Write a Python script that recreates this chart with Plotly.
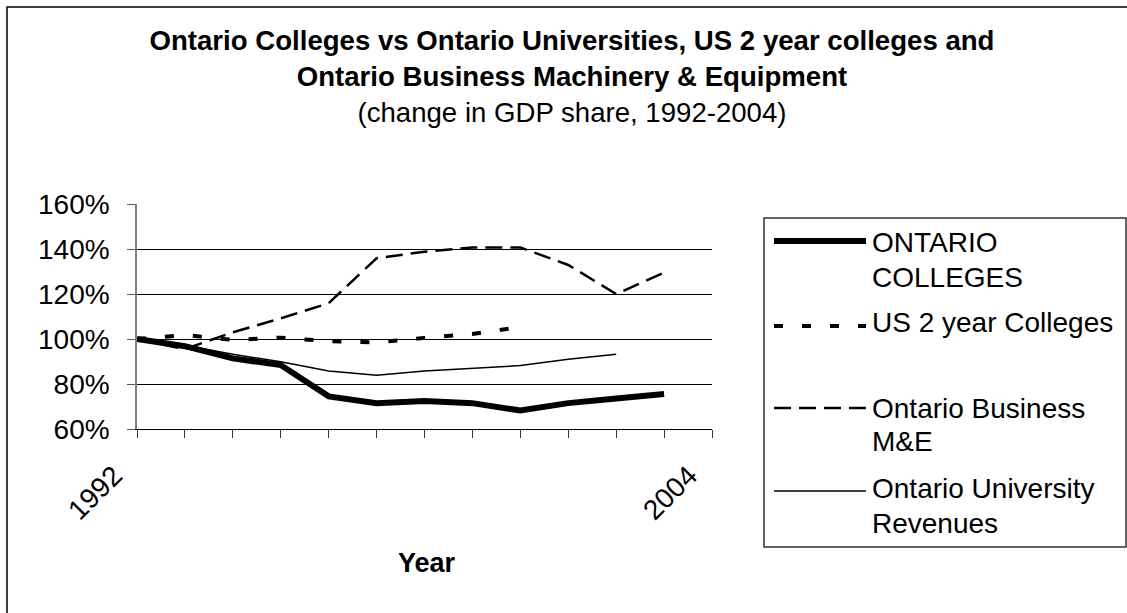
import plotly.graph_objects as go

# ---------------- data ----------------
years = list(range(1992, 2005))
tick_labels = ["1992"] + [""] * 11 + ["2004"]

ontario_colleges = [100, 96.8, 91.4, 88.4, 74.5, 71.5, 72.5, 71.5, 68.2, 71.5, 73.6, 75.6, None]
us_2yr_colleges = [100, 101.8, 99.6, 100.6, 99.0, 98.5, 100.5, 102.2, 105.3, None, None, None, None]
ontario_business_me = [100, 95.5, 103, 109.2, 115.9, 135.9, 138.8, 140.7, 140.7, 132.9, 120, 129.5, None]
ontario_university = [100, 97.2, 93.2, 89.9, 85.8, 83.9, 85.8, 87, 88.2, 91, 93.2, None, None]

series_names = ["ONTARIO COLLEGES", "US 2 year Colleges", "Ontario Business M&E", "Ontario University Revenues"]
legend_lines = [["ONTARIO", "COLLEGES"], ["US 2 year Colleges"], ["Ontario Business", "M&E"], ["Ontario University", "Revenues"]]

title_main = "Ontario Colleges vs Ontario Universities, US 2 year colleges and<br>Ontario Business Machinery &amp; Equipment"
title_sub = "(change in GDP share, 1992-2004)"
x_title = "Year"

# ---------------- layout geometry ----------------
W, H = 1127, 613
PL, PR, PT, PB = 137, 712, 204, 429
FONT = "Liberation Sans, Arial, sans-serif"


def px(xp):
    return (xp - PL) / (PR - PL)


def py(yp):
    return (PB - yp) / (PB - PT)


styles = [
    dict(color="black", width=6, dash="solid"),
    dict(color="black", width=4, dash="9px,19px"),
    dict(color="black", width=2.5, dash="17px,8px"),
    dict(color="black", width=1.5, dash="solid"),
]
values = [ontario_colleges, us_2yr_colleges, ontario_business_me, ontario_university]

fig = go.Figure()
order = [3, 2, 1, 0]
for i in order:
    fig.add_trace(go.Scatter(
        x=years, y=values[i], name=series_names[i], mode="lines",
        line=dict(color=styles[i]["color"], width=styles[i]["width"], dash=styles[i]["dash"]),
        connectgaps=False, showlegend=False,
    ))

shapes = []
annotations = []

# outer chart border
shapes.append(dict(type="rect", xref="paper", yref="paper",
                   x0=px(7), x1=px(1140), y0=py(7), y1=py(640),
                   line=dict(color="black", width=1.5), fillcolor="rgba(0,0,0,0)", layer="below"))

# legend box
shapes.append(dict(type="rect", xref="paper", yref="paper",
                   x0=px(764), x1=px(1126), y0=py(218), y1=py(547),
                   line=dict(color="#333333", width=1.5), fillcolor="white", layer="below"))

legend_line_y = [241, 326, 408, 491]
legend_text_y = [[242, 277], [322], [408, 441], [488, 523]]
for i in range(4):
    st = styles[i]
    shapes.append(dict(type="line", xref="paper", yref="paper",
                       x0=px(774), x1=px(866), y0=py(legend_line_y[i]), y1=py(legend_line_y[i]),
                       line=dict(color=st["color"], width=st["width"], dash=st["dash"])))
    for txt, ty in zip(legend_lines[i], legend_text_y[i]):
        annotations.append(dict(text=txt.replace("&", "&amp;"), xref="paper", yref="paper",
                                x=px(870), y=py(ty), xanchor="left", yanchor="middle",
                                showarrow=False, font=dict(family=FONT, size=28, color="black")))

# axis title
annotations.append(dict(text="<b>" + x_title + "</b>", xref="paper", yref="paper",
                        x=px(427), y=py(563), xanchor="center", yanchor="middle",
                        showarrow=False, font=dict(family=FONT, size=27, color="black")))

fig.update_layout(
    width=W, height=H,
    margin=dict(l=PL, r=W - PR, t=PT, b=H - PB, pad=0),
    paper_bgcolor="white", plot_bgcolor="white",
    font=dict(family=FONT, size=27, color="black"),
    title=dict(
        text="<b>" + title_main + "</b><br>" + title_sub,
        x=572 / W, xanchor="center", xref="container",
        y=1 - 50 / H, yanchor="top", yref="container",
        font=dict(family=FONT, size=27.6, color="black"),
    ),
    shapes=shapes,
    annotations=annotations,
    showlegend=False,
)

fig.update_xaxes(
    range=[1992, 2004], tickmode="array", tickvals=years, ticktext=tick_labels,
    tickangle=-45, ticks="outside", ticklen=8, tickcolor="#333333", tickwidth=1,
    showline=True, linecolor="black", linewidth=1, showgrid=False, zeroline=False,
    ticklabelshift=-23, ticklabelstandoff=10,
    tickfont=dict(family=FONT, size=28, color="black"),
)
fig.update_yaxes(
    range=[60, 160], tickmode="array", tickvals=[60, 80, 100, 120, 140, 160],
    ticktext=["60%", "80%", "100%", "120%", "140%", "160%"],
    ticks="outside", ticklen=8, tickcolor="#555555", tickwidth=1,
    showline=True, linecolor="#808080", linewidth=1.5,
    showgrid=True, gridcolor="black", gridwidth=1, zeroline=False,
    ticklabelstandoff=12,
    tickfont=dict(family=FONT, size=28, color="black"),
)

fig.write_html("out.html", config={"displayModeBar": False},
               post_script="document.body.style.margin='0px';document.body.style.overflow='hidden';")
